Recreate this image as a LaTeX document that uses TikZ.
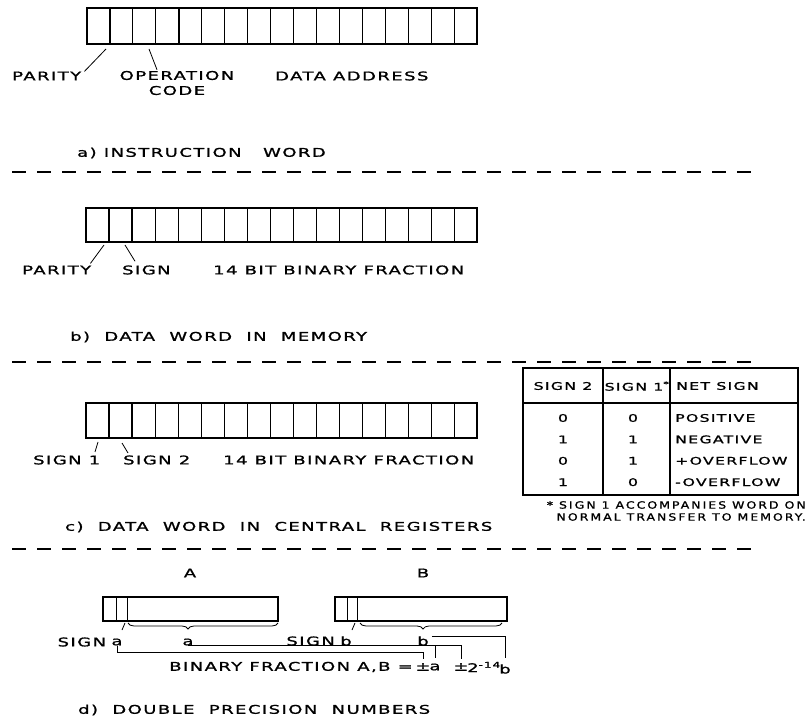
\documentclass[tikz,border=0pt]{standalone}
\usepackage{fontspec}
\setmainfont{DejaVu Sans}[FakeStretch=1.5,LetterSpace=12,FakeBold=1.2]
\newfontfamily\notefont{DejaVu Sans}[FakeStretch=1.25,LetterSpace=20,FakeBold=1.2]
\usetikzlibrary{positioning,decorations.pathreplacing}

\begin{document}
\begin{tikzpicture}[x=1pt,y=-1pt,
  every node/.style={font=\fontsize{12}{15}\selectfont,inner sep=0pt},
  tabtext/.style={font=\fontsize{10.5}{13}\selectfont},
  notetext/.style={font=\notefont\fontsize{10}{12}\selectfont},
  reg/.style={line width=1.4pt},
  cell/.style={line width=0.8pt},
  split/.style={line width=2.4pt},
  leader/.style={line width=0.8pt},
  tab/.style={line width=1.2pt},
  sep/.style={line width=1.2pt,dash pattern=on 14pt off 11pt},
  brc/.style={line width=0.8pt,decorate}]
\useasboundingbox (0,0) rectangle (812,719);

% a) instruction word
\draw[reg] (87,8) rectangle (477,44);
\foreach \i in {1,...,16}
  \draw[cell] ({87+\i*22.94},8) -- ({87+\i*22.94},44);
\draw[split] ({87+22.94},8) -- ({87+22.94},44);
\draw[split] ({87+4*22.94},8) -- ({87+4*22.94},44);
\coordinate (pa) at (106,49);
\coordinate (op) at (149,49);
\node[anchor=west] (parityA) at (12,76) {PARITY};
\node[align=center] (opcode) at (177,83) {OPERATION\\CODE};
\node[anchor=west] (address) at (275,76) {DATA ADDRESS};
\draw[leader] (pa) -- ([xshift=3pt]parityA.north east);
\draw[leader] (op) -- ([xshift=-20pt,yshift=1pt]opcode.north);
\node[anchor=west] (capA) at (77,153) {a) INSTRUCTION\ \ \ WORD};
\draw[sep] (12,172) -- (755,172);

% b) data word in memory
\draw[reg] (86,208) rectangle (477,242);
\foreach \i in {1,...,16}
  \draw[cell] ({86+\i*23},208) -- ({86+\i*23},242);
\draw[split] (109,208) -- (109,242);
\draw[split] (132,208) -- (132,242);
\coordinate (pb) at (104,245);
\coordinate (sb) at (125,245);
\node[anchor=west] (parityB) at (22,270) {PARITY};
\node[anchor=west] (signB) at (122,270) {SIGN};
\node[anchor=west] (fracB) at (213,270) {14 BIT BINARY FRACTION};
\draw[leader] (pb) -- ([xshift=-1pt,yshift=2pt]parityB.north east);
\draw[leader] (sb) -- ([xshift=13pt,yshift=4pt]signB.north west);
\node[anchor=west] (capB) at (70,337) {b)\ \ DATA\ \ WORD\ \ IN\ \ MEMORY};
\draw[sep] (12,362) -- (755,362);

% c) data word in central registers
\draw[reg] (86,403) rectangle (477,438);
\foreach \i in {1,...,16}
  \draw[cell] ({86+\i*23},403) -- ({86+\i*23},438);
\draw[split] (109,403) -- (109,438);
\draw[split] (132,403) -- (132,438);
\coordinate (s1) at (98,442);
\coordinate (s2) at (122,443);
\node[anchor=west] (signC1) at (33,460) {SIGN 1};
\node[anchor=west] (signC2) at (123,460) {SIGN 2};
\node[anchor=west] (fracC) at (223,460) {14 BIT BINARY FRACTION};
\draw[leader] (s1) -- ++(-3,10);
\draw[leader] (s2) -- ++(6,10);
\node[anchor=west] (capC) at (65,527) {c)\ \ DATA\ \ WORD\ \ IN\ \ CENTRAL\ \ REGISTERS};
\draw[sep] (12,549) -- (755,549);

% sign table
\draw[tab] (523,368) rectangle (798,495);
\draw[tab] (523,403) -- (798,403);
\draw[tab] (603,368) -- (603,495);
\draw[tab] (670,368) -- (670,495);
\node[tabtext] (head1) at (563,386) {SIGN 2};
\node[tabtext] (head2) at (637,386) {SIGN 1\textsuperscript{*}};
\node[tabtext,anchor=west] (head3) at (676,386) {NET SIGN};
\foreach \p/\q/\r [count=\k] in {0/0/POSITIVE,1/1/NEGATIVE,0/1/+OVERFLOW,1/0/-OVERFLOW} {
  \node[tabtext] (two\k) at (563,{396.6+\k*21.4}) {\p};
  \node[tabtext] (one\k) at (633,{396.6+\k*21.4}) {\q};
  \node[tabtext,anchor=west] (net\k) at (675,{396.6+\k*21.4}) {\r};
}
\node[notetext,anchor=east] (note1) at (806,505) {* SIGN 1 ACCOMPANIES WORD ON};
\node[notetext,anchor=east] (note2) at (806,517) {NORMAL TRANSFER TO MEMORY.};

% d) double precision numbers
\node (nameA) at (190,573) {A};
\node (nameB) at (423,573) {B};
\draw[reg] (103,597) rectangle (278,621);
\draw[cell] (116,597) -- (116,621);
\draw[cell] (127,597) -- (127,621);
\draw[reg] (335,597) rectangle (507,621);
\draw[cell] (347,597) -- (347,621);
\draw[cell] (357,597) -- (357,621);
\draw[brc,decoration={brace,amplitude=6pt,aspect=0.6}] (278,623) -- (128,623);
\draw[brc,decoration={brace,amplitude=6pt,aspect=0.556}] (502,623) -- (360,623);
\node (sgnA) at (117,642) {a};
\node[left=5pt of sgnA] (signA) {SIGN};
\node (frA) at (188,642) {a};
\node (sgnB) at (346,641) {b};
\node[left=5pt of sgnB] (signBB) {SIGN};
\node (frB) at (423,641) {b};
\coordinate (slA) at (125,623);
\coordinate (slB) at (355,623);
\draw[leader] (slA) -- ++(-3,7);
\draw[leader] (slB) -- ++(-3,7);
\node[anchor=east] (binfr) at (413,667) {BINARY FRACTION A,B =};
\node (pmA) at (423,667) {±};
\node (tA) at (435,667) {a};
\node (pmB) at (461,667) {±};
\node[anchor=west] (pow) at (467,667) {2\textsuperscript{-14}};
\node (tB) at (505,669) {b};
\draw[leader,shorten >=4pt] (sgnA.south) -- ++(0,7) -| (pmA.north);
\draw[leader,shorten >=5pt] (frA.south) -| (tA.north);
\draw[leader,shorten >=4pt] (sgnB.south east) -| (pmB.north);
\draw[leader,shorten >=6pt] ([xshift=3pt]frB.north east) -| (tB.north);
\node[anchor=west] (capD) at (78,710) {d)\ \ DOUBLE\ \ PRECISION\ \ NUMBERS};
\end{tikzpicture}
\end{document}
